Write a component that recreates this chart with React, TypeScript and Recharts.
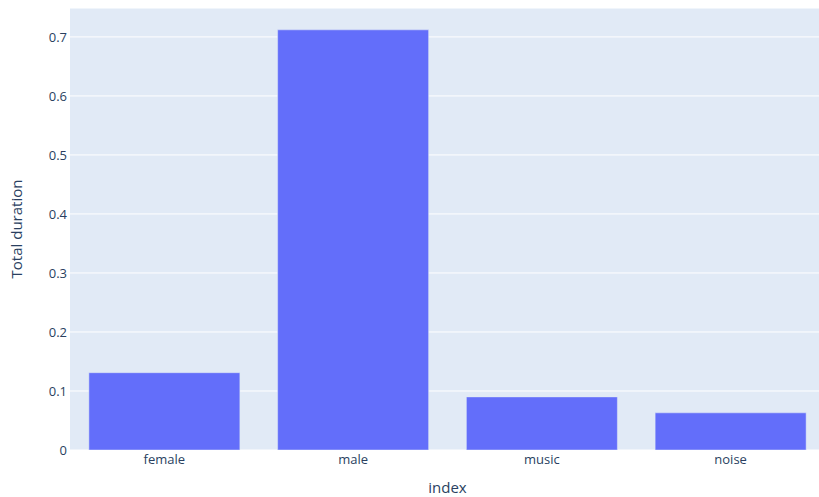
import React from "react";
import { BarChart, Bar, XAxis, YAxis, CartesianGrid, Label } from "recharts";

const categories = ["female", "male", "music", "noise"];
const durations = [0.131, 0.712, 0.09, 0.063];
const yTicks = [0, 0.1, 0.2, 0.3, 0.4, 0.5, 0.6, 0.7];

const data = categories.map((c, i) => ({ index: c, value: durations[i] }));

const FONT = '"Open Sans", verdana, arial, sans-serif';
const TXT = "#2a3f5f";

export default function App() {
  return (
    <div style={{ position: "absolute", left: 0, top: 0, width: 819, height: 497, overflow: "hidden", background: "#fff" }}>
      <BarChart
        width={830}
        height={497}
        data={data}
        margin={{ top: 8, right: 5, bottom: 17, left: 0 }}
        barCategoryGap="10%"
        style={{ fontFamily: FONT }}
      >
        <CartesianGrid fill="#E1EAF6" stroke="#ffffff" strokeWidth={1} vertical={false} />
        <XAxis
          dataKey="index"
          axisLine={false}
          tickLine={false}
          tickSize={0}
          tickMargin={5}
          height={30}
          tick={{ fill: TXT, fontSize: 13, fontFamily: FONT }}
        >
          <Label value="index" position="bottom" offset={2} style={{ fill: TXT, fontSize: 15, fontFamily: FONT }} />
        </XAxis>
        <YAxis
          domain={[0, 0.749]}
          ticks={yTicks}
          interval={0}
          allowDataOverflow
          axisLine={false}
          tickLine={false}
          tickSize={0}
          tickMargin={3}
          width={70}
          tickFormatter={(v: number) => (v === 0 ? "0" : String(v))}
          tick={{ fill: TXT, fontSize: 13, fontFamily: FONT }}
        >
          <Label
            value="Total duration"
            angle={-90}
            position="insideLeft"
            offset={17}
            style={{ textAnchor: "middle", fill: TXT, fontSize: 15, fontFamily: FONT }}
          />
        </YAxis>
        <Bar dataKey="value" fill="#636efa" stroke="#E1EAF6" strokeWidth={0.5} isAnimationActive={false} />
      </BarChart>
    </div>
  );
}
